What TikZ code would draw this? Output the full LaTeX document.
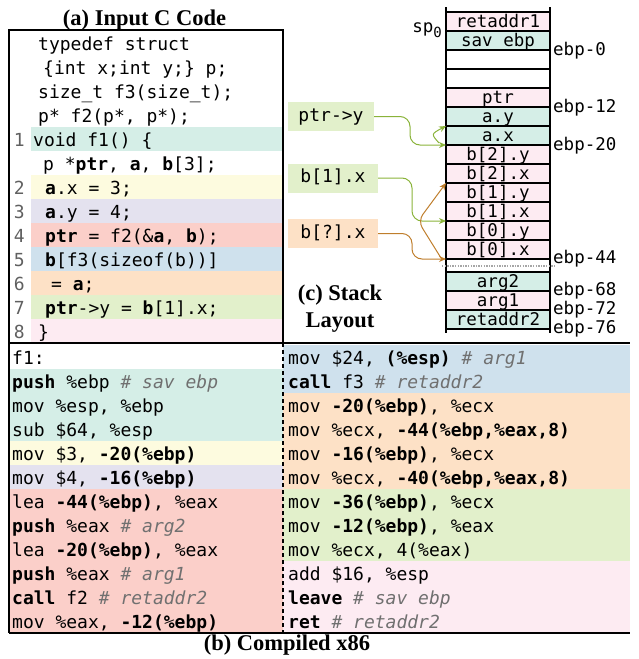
\documentclass[tikz,border=0pt]{standalone}
\usepackage{fontspec}
\setmainfont{Liberation Serif}
\setmonofont{DejaVu Sans Mono}
\usetikzlibrary{arrows.meta}

% row highlight colours
\definecolor{cteal}{HTML}{D5EEE7}
\definecolor{cyel}{HTML}{FDFBDF}
\definecolor{clav}{HTML}{E4E2EF}
\definecolor{cred}{HTML}{FBCFC9}
\definecolor{cblue}{HTML}{CFE1ED}
\definecolor{corg}{HTML}{FDE1C6}
\definecolor{cgrn}{HTML}{E2F0CB}
\definecolor{cpink}{HTML}{FDEBF2}
% arrows and text
\definecolor{agrn}{HTML}{8AB33A}
\definecolor{aorg}{HTML}{BF7E2C}
\definecolor{cmtgray}{HTML}{707070}
\definecolor{numgray}{HTML}{606060}

\newcommand{\kw}[1]{\textbf{#1}}
\newcommand{\cmt}[1]{\textcolor{cmtgray}{\textit{#1}}}

\tikzset{
  codeline/.style={anchor=base west, inner sep=0pt, font=\ttfamily\fontsize{18}{20}\selectfont},
  lineno/.style={anchor=base east, inner sep=0pt, text=numgray, font=\ttfamily\fontsize{18}{20}\selectfont},
  cell/.style={draw=black, line width=1.4pt, minimum width=104pt, minimum height=19pt,
    inner sep=0pt, outer sep=0pt, text height=13pt, text depth=2pt,
    font=\ttfamily\fontsize{17.5}{18}\selectfont},
  offlabel/.style={anchor=base west, inner sep=0pt, font=\ttfamily\fontsize{17.5}{18}\selectfont},
  refbox/.style={inner sep=0pt, outer sep=0pt, minimum height=29pt, text height=13pt, text depth=4pt,
    font=\ttfamily\fontsize{18}{20}\selectfont},
  title/.style={anchor=base, inner sep=0pt, font=\bfseries\fontsize{22.5}{24}\selectfont},
  ptrarrow/.style={line width=1pt, -{Stealth[length=7pt,width=6pt]}, rounded corners=10pt},
}

\begin{document}
\begin{tikzpicture}[x=1pt,y=-1pt]
\useasboundingbox (0,0) rectangle (639,659);

% ---------------- (a) C source ----------------
\node[title] (tA) at (144.5,25) {(a) Input C Code};
\fill[cteal] (31,127) rectangle (283,151);
\fill[cyel]  (31,175) rectangle (283,199);
\fill[clav]  (31,199) rectangle (283,223);
\fill[cred]  (31,223) rectangle (283,247);
\fill[cblue] (31,247) rectangle (283,271);
\fill[corg]  (31,271) rectangle (283,295);
\fill[cgrn]  (31,295) rectangle (283,319);
\fill[cpink] (31,319) rectangle (283,343);
\draw[line width=1.3pt] (9,30) rectangle (283,343);

\node[codeline] (c0)  at (38,50.5)  {typedef struct};
\node[codeline] (c1)  at (43,74.5)  {\{int x;int y;\} p;};
\node[codeline] (c2)  at (38,98.5)  {size\_t f3(size\_t);};
\node[codeline] (c3)  at (38,122.5) {p* f2(p*, p*);};
\node[codeline] (c4)  at (33,146.5) {void f1() \{};
\node[codeline] (c5)  at (43,170.5) {p *\kw{ptr}, \kw{a}, \kw{b}[3];};
\node[codeline] (c6)  at (45,194.5) {\kw{a}.x = 3;};
\node[codeline] (c7)  at (45,218.5) {\kw{a}.y = 4;};
\node[codeline] (c8)  at (45,242.5) {\kw{ptr} = f2(\&\kw{a}, \kw{b});};
\node[codeline] (c9)  at (45,266.5) {\kw{b}[f3(sizeof(b))]};
\node[codeline] (c10) at (51,290.5) {= \kw{a};};
\node[codeline] (c11) at (45,314.5) {\kw{ptr}->y = \kw{b}[1].x;};
\node[codeline] (c12) at (38,338.5) {\}};

\node[lineno] (n1) at (25,146.5) {1};
\node[lineno] (n2) at (25,194.5) {2};
\node[lineno] (n3) at (25,218.5) {3};
\node[lineno] (n4) at (25,242.5) {4};
\node[lineno] (n5) at (25,266.5) {5};
\node[lineno] (n6) at (25,290.5) {6};
\node[lineno] (n7) at (25,314.5) {7};
\node[lineno] (n8) at (25,338.5) {8};

% ---------------- (b) compiled x86 ----------------
\fill[cteal] (9,369)   rectangle (283,441);
\fill[cyel]  (9,441)   rectangle (283,465);
\fill[clav]  (9,465)   rectangle (283,489);
\fill[cred]  (9,489)   rectangle (283,633);
\fill[cblue] (283,345) rectangle (630,393);
\fill[corg]  (283,393) rectangle (630,489);
\fill[cgrn]  (283,489) rectangle (630,561);
\fill[cpink] (283,561) rectangle (630,633);
\draw[line width=2pt] (9,343) -- (630,343);
\draw[line width=1.5pt] (9,633) -- (630,633);
\draw[line width=1.3pt] (9,343) -- (9,633);
\draw[line width=1.2pt, dash pattern=on 4pt off 3pt] (283,343) -- (283,633);

\node[codeline] (l0)  at (12,364)   {f1:};
\node[codeline] (l1)  at (12,388)   {\kw{push} \%ebp \cmt{\# sav ebp}};
\node[codeline] (l2)  at (12,412)   {mov \%esp, \%ebp};
\node[codeline] (l3)  at (12,436)   {sub \$64, \%esp};
\node[codeline] (l4)  at (12,460)   {mov \$3, \kw{-20(\%ebp)}};
\node[codeline] (l5)  at (12,484)   {mov \$4, \kw{-16(\%ebp)}};
\node[codeline] (l6)  at (12,508)   {lea \kw{-44(\%ebp)}, \%eax};
\node[codeline] (l7)  at (12,532)   {\kw{push} \%eax \cmt{\# arg2}};
\node[codeline] (l8)  at (12,556)   {lea \kw{-20(\%ebp)}, \%eax};
\node[codeline] (l9)  at (12,580)   {\kw{push} \%eax \cmt{\# arg1}};
\node[codeline] (l10) at (12,604)   {\kw{call} f2 \cmt{\# retaddr2}};
\node[codeline] (l11) at (12,628)   {mov \%eax, \kw{-12(\%ebp)}};

\node[codeline] (r0)  at (288,364)  {mov \$24, \kw{(\%esp)} \cmt{\# arg1}};
\node[codeline] (r1)  at (288,388)  {\kw{call} f3 \cmt{\# retaddr2}};
\node[codeline] (r2)  at (288,412)  {mov \kw{-20(\%ebp)}, \%ecx};
\node[codeline] (r3)  at (288,436)  {mov \%ecx, \kw{-44(\%ebp,\%eax,8)}};
\node[codeline] (r4)  at (288,460)  {mov \kw{-16(\%ebp)}, \%ecx};
\node[codeline] (r5)  at (288,484)  {mov \%ecx, \kw{-40(\%ebp,\%eax,8)}};
\node[codeline] (r6)  at (288,508)  {mov \kw{-36(\%ebp)}, \%ecx};
\node[codeline] (r7)  at (288,532)  {mov \kw{-12(\%ebp)}, \%eax};
\node[codeline] (r8)  at (288,556)  {mov \%ecx, 4(\%eax)};
\node[codeline] (r9)  at (288,580)  {add \$16, \%esp};
\node[codeline] (r10) at (288,604)  {\kw{leave} \cmt{\# sav ebp}};
\node[codeline] (r11) at (288,628)  {\kw{ret} \cmt{\# retaddr2}};

\node[title] (tB) at (287,650) {(b) Compiled x86};

% ---------------- (c) stack layout ----------------
\node[cell, fill=cpink] (sRet1) at (498,21.5)  {retaddr1};
\node[cell, fill=cteal] (sEbp)  at (498,40.5)  {sav ebp};
\node[cell, fill=white] (sE1)   at (498,59.5)  {};
\node[cell, fill=white] (sE2)   at (498,78.5)  {};
\node[cell, fill=cpink] (sPtr)  at (498,97.5)  {ptr};
\node[cell, fill=cteal] (sAy)   at (498,116.5) {a.y};
\node[cell, fill=cteal] (sAx)   at (498,135.5) {a.x};
\node[cell, fill=cpink] (sB2y)  at (498,154.5) {b[2].y};
\node[cell, fill=cpink] (sB2x)  at (498,173.5) {b[2].x};
\node[cell, fill=cpink] (sB1y)  at (498,192.5) {b[1].y};
\node[cell, fill=cpink] (sB1x)  at (498,211.5) {b[1].x};
\node[cell, fill=cpink] (sB0y)  at (498,230.5) {b[0].y};
\node[cell, fill=cpink] (sB0x)  at (498,249.5) {b[0].x};
\node[cell, fill=cteal] (sArg2) at (498,281.5) {arg2};
\node[cell, fill=cpink] (sArg1) at (498,300.5) {arg1};
\node[cell, fill=cteal] (sRet2) at (498,319.5) {retaddr2};

\draw[line width=1.4pt] (446,7) -- (446,333);
\draw[line width=1.4pt] (550,7) -- (550,333);
\draw[gray!70, line width=1.2pt, dash pattern=on 1.3pt off 1.3pt] (442,266) -- (555,266);

\node[anchor=base east, inner sep=0pt, font=\ttfamily\fontsize{17.5}{18}\selectfont] (sp0)
  at (442,32) {sp\raisebox{-5pt}{\fontsize{14}{14}\selectfont 0}};
\node[offlabel] (o0)  at (553,55)  {ebp-0};
\node[offlabel] (o12) at (553,112) {ebp-12};
\node[offlabel] (o20) at (553,150) {ebp-20};
\node[offlabel] (o44) at (553,263) {ebp-44};
\node[offlabel] (o68) at (553,295) {ebp-68};
\node[offlabel] (o72) at (553,314) {ebp-72};
\node[offlabel] (o76) at (553,333) {ebp-76};

\node[title] (tC1) at (340,300) {(c) Stack};
\node[title] (tC2) at (340,327) {Layout};

% pointer expressions and what they may touch
\node[refbox, fill=cgrn, minimum width=86pt] (lPtr) at (331,116.5) {ptr->y};
\node[refbox, fill=cgrn, minimum width=90pt] (lB1)  at (333,178)   {b[1].x};
\node[refbox, fill=corg, minimum width=90pt] (lBq)  at (333,233.5) {b[?].x};

\draw[ptrarrow, agrn] (lPtr.east) -- (410,116.5) -- (410,145) -- (sAx.south west);
\coordinate (ptrFork) at (439,143);
\draw[ptrarrow, agrn, rounded corners=0pt] (ptrFork) .. controls (431,134) .. (sAx.north west);

\draw[ptrarrow, agrn] (lB1.east) -- (412,178) -- (412,221) -- (sB1x.south west);
\draw[ptrarrow, aorg] (lBq.east) -- (412,233.5) -- (412,259) -- (sB0x.south west);
\coordinate (bFork) at (441,258);
\draw[ptrarrow, aorg, rounded corners=8pt] (bFork) -- (418,221) -- (sB2x.south west);
\end{tikzpicture}
\end{document}
